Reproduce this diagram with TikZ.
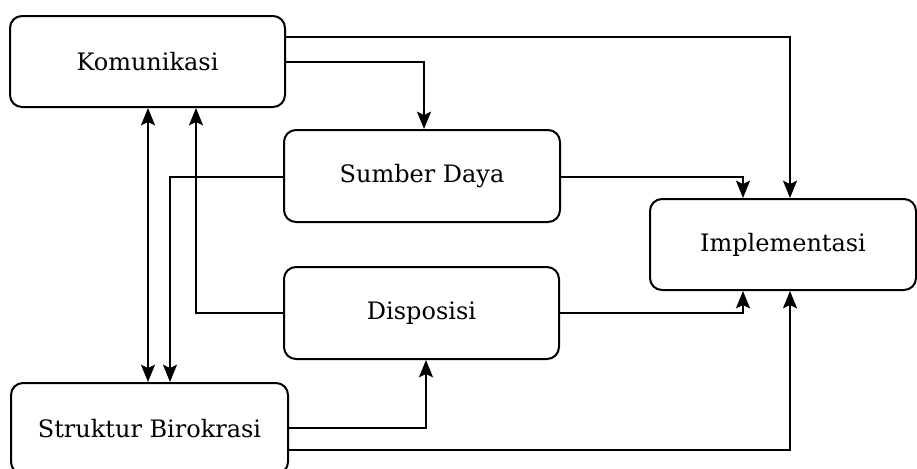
\documentclass[tikz,border=0pt]{standalone}
\usepackage{fontspec}
\setmainfont{DejaVu Serif}
\usetikzlibrary{arrows.meta}
\newlength\px
\setlength\px{0.75pt}
\tikzset{
  box/.style={draw=black, line width=1.5pt, rounded corners=9pt, fill=white,
    minimum width=275\px, minimum height=91\px, inner sep=0pt, font=\fontsize{18}{21}\selectfont},
  conn/.style={draw=black, line width=1.5pt, -{Stealth[length=13pt,width=10.5pt,inset=2.5pt]}},
  dconn/.style={draw=black, line width=1.5pt, {Stealth[length=13pt,width=10.5pt,inset=2.5pt]}-{Stealth[length=13pt,width=10.5pt,inset=2.5pt]}},
}
\begin{document}
\begin{tikzpicture}[x=0.75pt,y=-0.75pt]
\useasboundingbox (0,0) rectangle (917,468);
\fill[white] (0,0) rectangle (917,468);
\node[box] (kom) at (147.5,61.5) {Komunikasi};
\node[box, minimum width=276\px, minimum height=92\px] (sum) at (422,176) {Sumber Daya};
\node[box, minimum height=92\px] (dis) at (421.5,313) {Disposisi};
\node[box, minimum width=266\px] (impl) at (783,244.5) {Implementasi};
\node[box, minimum width=277\px] (str) at (149.5,428.5) {Struktur Birokrasi};
\coordinate (c1) at (790,37);
\coordinate (c2) at (424,62);
\coordinate (c3) at (743,177);
\coordinate (c4) at (743,313);
\coordinate (c5) at (426,428);
\coordinate (c6) at (790,450);
\coordinate (c7) at (148,240);
\coordinate (c8) at (170,177);
\coordinate (c9) at (196,313);
\draw[conn] (kom.east |- c1) -| (impl.north -| c1);
\draw[conn] (kom.east |- c2) -| (sum.north -| c2);
\draw[conn] (sum.east |- c3) -| (impl.north -| c3);
\draw[conn] (dis.east |- c4) -| (impl.south -| c4);
\draw[conn] (str.east |- c5) -| (dis.south -| c5);
\draw[conn] (str.east |- c6) -| (impl.south -| c6);
\draw[dconn] (kom.south -| c7) -- (str.north -| c7);
\draw[conn] (sum.west |- c8) -| (str.north -| c8);
\draw[conn] (dis.west |- c9) -| (kom.south -| c9);
\end{tikzpicture}
\end{document}
